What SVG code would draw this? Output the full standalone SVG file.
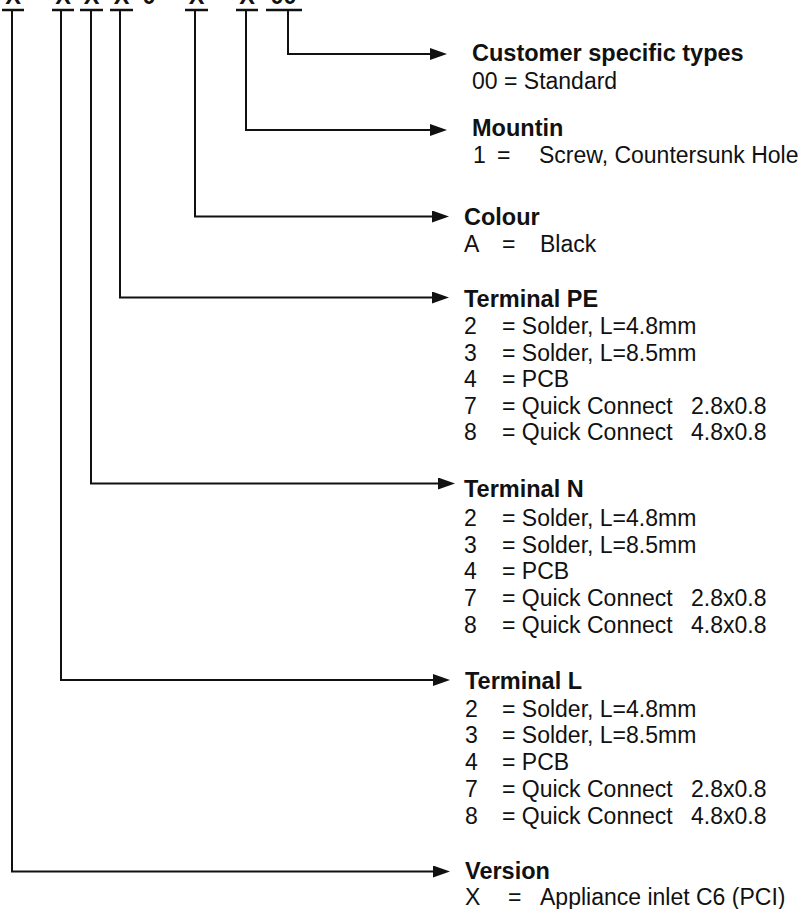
<svg xmlns="http://www.w3.org/2000/svg" width="809" height="909" viewBox="0 0 809 909">
<style>
text{font-family:"Liberation Sans",Arial,sans-serif;font-size:23px;fill:#111}
.b{font-weight:bold;font-size:23.5px}
.c{text-anchor:middle}
.ul{stroke:#111;stroke-width:2.5}
.con{fill:none;stroke:#111;stroke-width:2;marker-end:url(#ah)}
</style>
<defs>
<marker id="ah" markerUnits="userSpaceOnUse" markerWidth="17" markerHeight="12" refX="7" refY="6" orient="auto">
<path d="M0,0 L17,6 L0,12 z" fill="#111"/>
</marker>
</defs>
<rect width="809" height="909" fill="#fff"/>
<g id="code">
<text class="b c" x="13" y="4">X</text>
<text class="b c" x="63" y="4">X</text>
<text class="b c" x="91.5" y="4">X</text>
<text class="b c" x="121.5" y="4">X</text>
<text class="b c" x="149" y="4">0</text>
<text class="b c" x="196.5" y="4">X</text>
<text class="b c" x="247" y="4">X</text>
<text class="b c" x="283.5" y="4">00</text>
<line class="ul" x1="2" y1="10" x2="24" y2="10"/>
<line class="ul" x1="52" y1="10" x2="74" y2="10"/>
<line class="ul" x1="80" y1="10" x2="103" y2="10"/>
<line class="ul" x1="110" y1="10" x2="133" y2="10"/>
<line class="ul" x1="185" y1="10" x2="208" y2="10"/>
<line class="ul" x1="236" y1="10" x2="258" y2="10"/>
<line class="ul" x1="266" y1="10" x2="302" y2="10"/>
</g>
<g id="connectors">
<path class="con" d="M288,10 V54 H437"/>
<path class="con" d="M246,10 V130 H437"/>
<path class="con" d="M195,10 V216.5 H439"/>
<path class="con" d="M120,10 V297.5 H439"/>
<path class="con" d="M91,10 V483.5 H445"/>
<path class="con" d="M61,10 V680 H440"/>
<path class="con" d="M12,10 V871.5 H440"/>
</g>
<g id="customer">
<text class="b" x="472" y="61">Customer specific types</text>
<text x="472" y="89">00 = Standard</text>
</g>
<g id="mounting">
<text class="b" x="472" y="136">Mountin</text>
<text x="473" y="163">1</text><text x="497" y="163">=</text><text x="539" y="163">Screw, Countersunk Hole</text>
</g>
<g id="colour">
<text class="b" x="464" y="225">Colour</text>
<text x="464" y="252">A</text><text x="502" y="252">=</text><text x="540" y="252">Black</text>
</g>
<g id="terminal-pe">
<text class="b" x="464" y="306.5">Terminal PE</text>
<text x="464" y="334">2</text><text x="502" y="334">= Solder, L=4.8mm</text>
<text x="464" y="360.5">3</text><text x="502" y="360.5">= Solder, L=8.5mm</text>
<text x="464" y="387">4</text><text x="502" y="387">= PCB</text>
<text x="464" y="413.5">7</text><text x="502" y="413.5">= Quick Connect</text><text x="691" y="413.5">2.8x0.8</text>
<text x="464" y="440">8</text><text x="502" y="440">= Quick Connect</text><text x="691" y="440">4.8x0.8</text>
</g>
<g id="terminal-n">
<text class="b" x="464" y="496.5">Terminal N</text>
<text x="464" y="526">2</text><text x="502" y="526">= Solder, L=4.8mm</text>
<text x="464" y="552.5">3</text><text x="502" y="552.5">= Solder, L=8.5mm</text>
<text x="464" y="579">4</text><text x="502" y="579">= PCB</text>
<text x="464" y="606">7</text><text x="502" y="606">= Quick Connect</text><text x="691" y="606">2.8x0.8</text>
<text x="464" y="632.5">8</text><text x="502" y="632.5">= Quick Connect</text><text x="691" y="632.5">4.8x0.8</text>
</g>
<g id="terminal-l">
<text class="b" x="465" y="689">Terminal L</text>
<text x="465" y="716.5">2</text><text x="502" y="716.5">= Solder, L=4.8mm</text>
<text x="465" y="743">3</text><text x="502" y="743">= Solder, L=8.5mm</text>
<text x="465" y="770">4</text><text x="502" y="770">= PCB</text>
<text x="465" y="796.5">7</text><text x="502" y="796.5">= Quick Connect</text><text x="691" y="796.5">2.8x0.8</text>
<text x="465" y="823.5">8</text><text x="502" y="823.5">= Quick Connect</text><text x="691" y="823.5">4.8x0.8</text>
</g>
<g id="version">
<text class="b" x="465" y="878.5">Version</text>
<text x="465" y="905">X</text><text x="508" y="905">=</text><text x="540" y="905">Appliance inlet C6 (PCI)</text>
</g>
</svg>
